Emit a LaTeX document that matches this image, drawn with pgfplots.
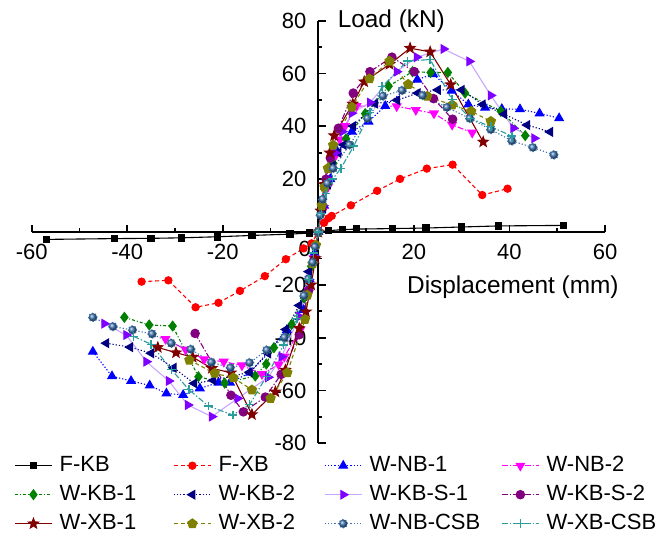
\documentclass[border=0pt]{standalone}
\usepackage{fontspec}
\setmainfont{Liberation Sans}
\usepackage{pgfplots}
\pgfplotsset{compat=1.18}
\usetikzlibrary{plotmarks}

\definecolor{cFXB}{HTML}{FF0000}
\definecolor{cNB1}{HTML}{0000FF}
\definecolor{cNB2}{HTML}{FF00FF}
\definecolor{cKB1}{HTML}{008000}
\definecolor{cKB2}{HTML}{000080}
\definecolor{cKBS1}{HTML}{8000FF}
\definecolor{cKBS1l}{HTML}{C9A6FF}
\definecolor{cKBS2}{HTML}{800080}
\definecolor{cXB1}{HTML}{800000}
\definecolor{cXB2}{HTML}{808000}
\definecolor{cNBC}{HTML}{3C72AC}
\definecolor{cXBC}{HTML}{2A9D9D}

% filled five-pointed star
\pgfdeclareplotmark{fstar}{%
  \pgfpathmoveto{\pgfpointpolar{90}{1\pgfplotmarksize}}%
  \pgfpathlineto{\pgfpointpolar{126}{0.42\pgfplotmarksize}}%
  \pgfpathlineto{\pgfpointpolar{162}{1\pgfplotmarksize}}%
  \pgfpathlineto{\pgfpointpolar{198}{0.42\pgfplotmarksize}}%
  \pgfpathlineto{\pgfpointpolar{234}{1\pgfplotmarksize}}%
  \pgfpathlineto{\pgfpointpolar{270}{0.42\pgfplotmarksize}}%
  \pgfpathlineto{\pgfpointpolar{306}{1\pgfplotmarksize}}%
  \pgfpathlineto{\pgfpointpolar{342}{0.42\pgfplotmarksize}}%
  \pgfpathlineto{\pgfpointpolar{18}{1\pgfplotmarksize}}%
  \pgfpathlineto{\pgfpointpolar{54}{0.42\pgfplotmarksize}}%
  \pgfpathclose\pgfusepathqfillstroke}

\begin{document}
\begin{tikzpicture}
\useasboundingbox (0,0) rectangle (335bp,267bp);
\begin{axis}[
  at={(15.85bp,45.35bp)},anchor=south west,
  scale only axis,width=286.65bp,height=211.3bp,
  axis lines=middle,axis line style={-,line width=0.9bp},
  xmin=-60,xmax=60,ymin=-80,ymax=80,
  xtick={-60,-40,...,60},xticklabels={-60,-40,-20,,20,40,60},
  ytick={-80,-60,...,80},yticklabels={-80,-60,-40,-20,,20,40,60,80},
  minor x tick num=1,minor y tick num=1,
  tick align=inside,major tick length=3.7bp,minor tick length=2bp,
  tick style={line width=0.9bp,black},
  tick label style={font=\fontsize{11bp}{13bp}\selectfont},
  xticklabel style={yshift=-2.5bp},yticklabel style={xshift=-2.5bp},
  clip=false,
  legend columns=4,legend cell align=left,
  legend style={at={(axis description cs:0,0)},anchor=north west,xshift=-8.85bp,yshift=-6bp,
    draw=none,fill=none,inner sep=0pt,font=\fontsize{11bp}{13bp}\selectfont,
    nodes={inner sep=0pt,text height=8bp,text depth=2bp},row sep=4.5bp,
    /tikz/every odd column/.append style={column sep=3.6bp},
    /tikz/column 2/.append style={column sep=18.5bp},
    /tikz/column 4/.append style={column sep=14.5bp},
    /tikz/column 6/.append style={column sep=10.5bp}},
  legend image code/.code={\draw[mark repeat=2,mark phase=2,#1] plot coordinates {(0bp,0bp) (9.25bp,0bp) (18.5bp,0bp)};},
  every axis plot/.append style={line width=0.55bp},
]
% F-KB
\addplot[black,solid,mark=square*,mark size=1.6bp] coordinates {
(-56.9,-2.8) (-42.7,-2.5) (-35.0,-2.4) (-28.6,-2.2) (-21.1,-1.8) (-13.9,-1.3) (-5.9,-0.8) (-1.9,-0.4) (0,0)
(2.1,0.5) (5.1,0.9) (8.0,1.1) (15.5,1.3) (22.5,1.5) (30.0,1.9) (37.7,2.3) (51.3,2.5)};
\addlegendentry{F-KB}
% F-XB
\addplot[cFXB,dash pattern=on 2bp off 1.4bp,mark=*,mark size=1.8bp,mark options={solid}] coordinates {
(-37.0,-18.8) (-31.4,-18.3) (-25.7,-28.5) (-20.9,-26.8) (-16.4,-22.3) (-11.2,-16.7) (-6.8,-10.3) (-3.1,-6.2) (-1.4,-4.3) (0,0)
(1.2,3.5) (2.1,5.2) (2.8,6.1) (6.8,10.1) (12.3,15.6) (17.1,20.1) (22.7,24.0) (28.1,25.5) (34.3,14.0) (39.6,16.4)};
\addlegendentry{F-XB}
% W-NB-1
\addplot[cNB1,dash pattern=on 0.6bp off 1bp,mark=triangle*,mark size=2.4bp,mark options={solid}] coordinates {
(-47.2,-45.3) (-43.2,-54.6) (-39.2,-56.4) (-35.3,-58.1) (-31.8,-61.1) (-28.3,-61.7) (-24.8,-59.2) (-20.9,-57.0) (-18.5,-57.0)
(-14.3,-53.3) (-6.6,-37.1) (-3.1,-29.5) (-1.8,-18) (-0.8,-8) (0,0) (1.2,10) (2.5,20) (4.0,30.4) (7.0,38) (10.5,41.8)
(14.0,47.7) (20.7,57.7) (24.0,59.8) (27.9,53.5) (31.4,48.3) (34.9,47.1) (38.4,46.6) (42.2,46.5) (46.3,44.9) (50.4,43.1)};
\addlegendentry{W-NB-1}
% W-NB-2
\addplot[cNB2,dash pattern=on 3bp off 1bp on 0.7bp off 1bp,mark=triangle*,mark size=2.4bp,mark options={solid,rotate=180}] coordinates {
(-32.0,-40.5) (-27.8,-44.5) (-23.9,-48.2) (-19.8,-49.1) (-16.0,-50.5) (-11.8,-53.8) (-8.3,-50.2) (-7.1,-47.2) (-3.8,-37.1)
(-2,-22) (-1,-10) (0,0) (0.9,8) (2,17) (3.3,28) (4.5,35) (5.6,40.1) (8.0,47.7) (16.4,47.6) (20.4,46.2) (24.2,44.9)
(28.0,40.6) (32.2,37.6)};
\addlegendentry{W-NB-2}
% W-KB-1
\addplot[cKB1,dash pattern=on 1.5bp off 1bp on 0.5bp off 1bp,mark=diamond*,mark size=2.4bp,mark options={solid}] coordinates {
(-40.6,-32.3) (-35.4,-35.2) (-30.5,-35.6) (-25.1,-54.8) (-19.6,-57.2) (-13.2,-54.5) (-10.9,-50.0) (-9.3,-43.8) (-5.6,-35.0)
(-3,-25) (-1.5,-13) (0,0) (1,10) (2,18) (3.1,26) (5.8,35.3) (9.8,44.8) (14.7,55.2) (19.7,60.7) (23.5,60.4) (27.1,60.4)
(30.7,52.6) (38.2,45.7) (43.3,36.5)};
\addlegendentry{W-KB-1}
% W-KB-2
\addplot[cKB2,dash pattern=on 0.6bp off 1bp,mark=triangle*,mark size=2.4bp,mark options={solid,rotate=90}] coordinates {
(-44.4,-42.1) (-39.4,-43.6) (-35.0,-45.9) (-30.3,-51.4) (-26.0,-57.3) (-22.0,-56.2) (-14.4,-53.1) (-10.5,-46) (-6.8,-36.9)
(-4.0,-27.8) (-2,-15) (0,0) (1,9) (2,18) (3,25) (4.2,30) (5.3,33) (7.3,40.1) (11.9,48.6) (16.5,49.9) (20.8,52.6)
(25.0,53.8) (30.0,53.8) (34.4,48.3) (38.9,44.6) (43.7,40.5) (48.5,37.9)};
\addlegendentry{W-KB-2}
% W-KB-S-1
\addplot[cKBS1l,solid,mark=triangle*,mark size=2.4bp,mark options={cKBS1,rotate=-90}] coordinates {
(-44.8,-34.7) (-40.2,-39.0) (-36.0,-49.1) (-31.3,-56.4) (-27.3,-65.5) (-22.3,-69.9) (-16.9,-63.0) (-10.5,-55) (-7.7,-47.2)
(-4,-32) (-2,-18) (0,0) (1,10) (2.2,20) (3.5,30) (5,38) (7.0,45) (10.8,49) (16.4,60.7) (20.6,66.2) (26.2,69.3)
(31.6,64.6) (36.1,51.7) (40.8,39.3) (45.2,35.5)};
\addlegendentry{W-KB-S-1}
% W-KB-S-2
\addplot[cKBS2,dash pattern=on 3bp off 1bp on 0.7bp off 1bp,mark=*,mark size=2.1bp,mark options={solid}] coordinates {
(-25.8,-38.4) (-18.3,-61.8) (-15.7,-68.1) (-11.1,-62.5) (-7.8,-53.9) (-4.0,-38.9) (-2,-22) (-1,-11) (0,0)
(0.8,10) (1.6,20) (2.5,28) (4.2,39.3) (7.3,52.6) (10.8,60.7) (15.4,66.2) (20.1,60.7) (24.1,50.5) (28.1,42.7)};
\addlegendentry{W-KB-S-2}
% W-XB-1
\addplot[cXB1,solid,mark=fstar,mark size=2.6bp] coordinates {
(-33.6,-43.7) (-29.8,-45.7) (-26.3,-47.4) (-22.3,-51.6) (-18.3,-53.3) (-13.9,-69.1) (-9.0,-60.5) (-6.9,-52.3) (-4.0,-36.5)
(-2.6,-30.2) (-1.5,-20) (-0.6,-10) (0,0) (0.5,8) (1.2,18) (2.4,30) (3.3,36.5) (7.2,48.5) (9.6,56.9) (14.9,63.5)
(19.2,69.6) (23.4,68.2) (27.7,55.8) (34.5,34.1)};
\addlegendentry{W-XB-1}
% W-XB-2
\addplot[cXB2,dash pattern=on 2bp off 1.4bp,mark=pentagon*,mark size=2.4bp,mark options={solid}] coordinates {
(-27.0,-48.5) (-21.7,-53.5) (-17.8,-55.2) (-13.9,-59.8) (-10.0,-63.0) (-6.5,-53.3) (-2.8,-33.1) (-2.3,-23.9) (-1.2,-12)
(-0.5,-5) (0,0) (0.7,10) (1.3,17) (2.0,24.1) (3.1,32.9) (7.0,47.3) (10.7,58.0) (14.9,64.7) (18.8,55.9) (22.8,51.4)
(28.0,48.1) (32.0,45.7) (36.1,41.9)};
\addlegendentry{W-XB-2}
% W-NB-CSB
\addplot[cNBC,dash pattern=on 0.6bp off 1bp,mark=ball,mark size=2.1bp,mark options={ball color=cNBC}] coordinates {
(-47.2,-32.3) (-43.0,-35.8) (-38.9,-37.1) (-34.8,-38.6) (-30.8,-42.1) (-26.7,-44.4) (-22.4,-49.3) (-18.4,-51.4) (-14.4,-49.5)
(-10.8,-44.7) (-7.1,-39.9) (-3.0,-24.1) (-2.1,-17.8) (-1.2,-11.5) (-0.7,-5.6) (0,0) (0.4,6.4) (0.9,12.4) (1.9,18.4)
(3.1,24.1) (6.5,33.0) (10.3,43.0) (13.5,51.5) (17.5,53.6) (21.8,51.7) (26.9,47.2) (31.7,43.0) (36.1,38.8) (40.5,34.5)
(44.9,32.0) (49.3,29.2)};
\addlegendentry{W-NB-CSB}
% W-XB-CSB
\addplot[cXBC,dash pattern=on 3bp off 1bp on 0.7bp off 1bp,mark=+,mark size=2.2bp,mark options={solid,line width=0.7bp}] coordinates {
(-38.7,-39.5) (-35.0,-42.5) (-30.8,-52.0) (-27.1,-59.7) (-23.0,-65.9) (-17.9,-69.3) (-14.4,-65.4) (-10.9,-54.8) (-7.3,-42.8)
(-4.5,-32.7) (-2,-18) (-1,-8) (0,0) (0.7,7) (1.6,14.6) (3,20) (4.7,24.1) (7.4,32.5) (10.8,45.2) (13.3,55.0) (18.6,64.7)
(23.4,65.3) (28.0,50.1) (31.8,43.0) (36.1,39.9) (40.5,36.3)};
\addlegendentry{W-XB-CSB}

\node[anchor=base west,inner sep=0pt,font=\fontsize{11bp}{13bp}\selectfont] at (axis cs:-4.19,-9.35) {0};
\node[anchor=base west,inner sep=0pt,font=\fontsize{12.2bp}{14bp}\selectfont] at (axis cs:3.98,77.4) {Load (kN)};
\node[anchor=base west,inner sep=0pt,font=\fontsize{12.2bp}{14bp}\selectfont] at (axis cs:18.5,-23.2) {Displacement (mm)};
\end{axis}
\end{tikzpicture}
\end{document}
